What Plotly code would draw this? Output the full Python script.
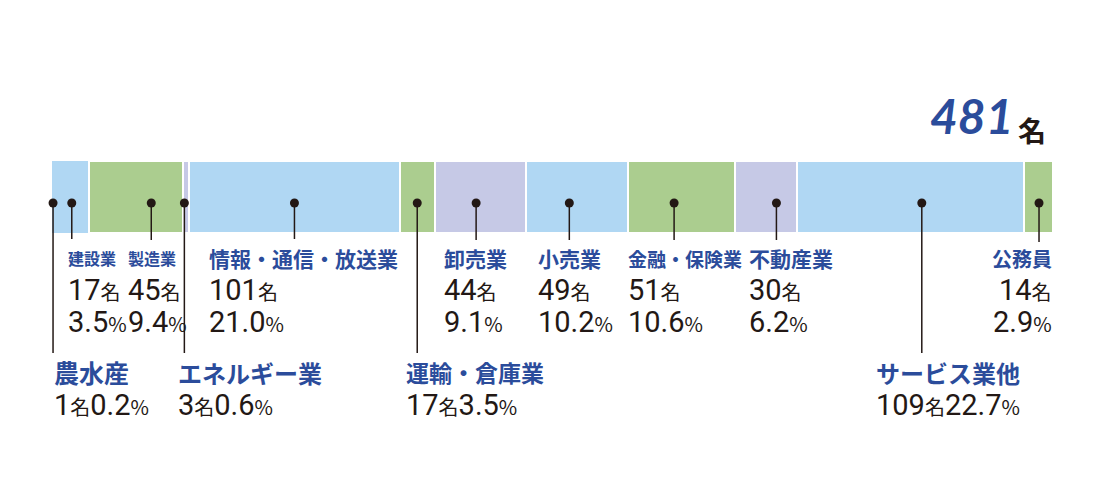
import plotly.graph_objects as go

# data
categories = ['農水産', '建設業', '製造業', 'エネルギー業', '情報・通信・放送業', '運輸・倉庫業',
              '卸売業', '小売業', '金融・保険業', '不動産業', 'サービス業他', '公務員']
counts = [1, 17, 45, 3, 101, 17, 44, 49, 51, 30, 109, 14]
percents = ['0.2', '3.5', '9.4', '0.6', '21.0', '3.5', '9.1', '10.2', '10.6', '6.2', '22.7', '2.9']
total = 481
unit = '名'

# styling / label layout
BLUE, GREEN, LAV = '#b0d7f3', '#abcd8f', '#c6c9e6'
seg_colors = [BLUE, BLUE, GREEN, LAV, BLUE, GREEN, LAV, BLUE, GREEN, LAV, BLUE, GREEN]
seg_lines = [0, 0, 2, 2, 2, 2, 2, 2, 2, 2, 2, 2]
NAME_C = '#2b4c9b'
TXT_C = '#231815'
JP = 'Noto Sans CJK JP'
NUM = 'Liberation Sans Narrow, Roboto'

# dot position inside its segment (fraction of the segment)
dot_frac = [0.5, 0.5, 0.66, 0.2, 0.5, 0.5, 0.45, 0.42, 0.43, 0.67, 0.55, 0.52]
# leader line bottom (px), label left edge (px), label row, name font size
line_end = [353, 239, 240, 353, 239, 353, 240, 240, 240, 240, 353, 242]
label_x = [53, 67, 127, 177, 208, 405, 443, 537, 627, 748, 875, 1053]
row = ['low', 'up', 'up', 'low', 'up', 'low', 'up', 'up', 'up', 'up', 'low', 'up']
name_size = [25, 16, 16, 24, 21, 23, 21, 21, 19, 21, 24, 20]

L_MARGIN, R_MARGIN, W, H = 52, 47, 1100, 500
BAR_Y, BAR_H, DOT_Y = 197, 72, 203


def px(x):
    return (x - L_MARGIN) / (W - L_MARGIN - R_MARGIN)


fig = go.Figure()
for cat, n, col, lw in zip(categories, counts, seg_colors, seg_lines):
    fig.add_trace(go.Bar(
        name=cat, x=[n], y=[BAR_Y], orientation='h', width=BAR_H,
        marker=dict(color=col, line=dict(color='white', width=lw)),
        hoverinfo='skip', showlegend=False,
    ))

starts = [sum(counts[:i]) for i in range(len(counts))]
dot_x = [s + f * n for s, f, n in zip(starts, dot_frac, counts)]

lx, ly = [], []
for dx, ye in zip(dot_x, line_end):
    lx += [dx, dx, None]
    ly += [DOT_Y, ye, None]
fig.add_trace(go.Scatter(x=lx, y=ly, mode='lines', line=dict(color=TXT_C, width=1.5),
                         cliponaxis=False, hoverinfo='skip', showlegend=False))
fig.add_trace(go.Scatter(x=dot_x, y=[DOT_Y] * len(dot_x), mode='markers',
                         marker=dict(color=TXT_C, size=9), cliponaxis=False,
                         hoverinfo='skip', showlegend=False))


def small(t, size=20):
    return f"<span style='font-family:{JP};font-size:{size}px'>{t}</span>"


anns = []
for i, cat in enumerate(categories):
    right = label_x[i] >= 1050
    xa = 'right' if right else 'left'
    x0 = px(label_x[i])
    if row[i] == 'up':
        rows = [(258, cat, dict(family=JP, size=name_size[i], color=NAME_C, weight='bold')),
                (290, f"{counts[i]}{small(unit)}", dict(family=NUM, size=29, color=TXT_C)),
                (322, f"{percents[i]}{small('%')}", dict(family=NUM, size=29, color=TXT_C))]
    else:
        rows = [(372, cat, dict(family=JP, size=name_size[i], color=NAME_C, weight='bold')),
                (405, f"{counts[i]}{small(unit)}{percents[i]}{small('%')}",
                 dict(family=NUM, size=29, color=TXT_C))]
    for yy, txt, f in rows:
        anns.append(dict(x=x0, y=yy, xref='paper', yref='y', text=txt, showarrow=False,
                         xanchor=xa, yanchor='middle', font=f, borderpad=0))

anns.append(dict(x=px(1015), y=115, xref='paper', yref='y', text=f"<b><i>{total}</i></b>",
                 showarrow=False, xanchor='right', yanchor='middle', borderpad=0,
                 font=dict(family='Lato', size=48, color=NAME_C)))
anns.append(dict(x=px(1047), y=130, xref='paper', yref='y', text=f"<b>{unit}</b>",
                 showarrow=False, xanchor='right', yanchor='middle', borderpad=0,
                 font=dict(family=JP, size=28, color=TXT_C)))

fig.update_layout(
    width=W, height=H, barmode='stack', bargap=0,
    plot_bgcolor='white', paper_bgcolor='white',
    margin=dict(l=L_MARGIN, r=R_MARGIN, t=0, b=0),
    xaxis=dict(range=[0, total], visible=False, fixedrange=True),
    yaxis=dict(range=[H, 0], visible=False, fixedrange=True),
    annotations=anns,
)
# drop the browser's default page margin so the figure sits at the window corner
fig.write_html("out.html", config={'displayModeBar': False},
               post_script="document.body.style.margin='0';")
